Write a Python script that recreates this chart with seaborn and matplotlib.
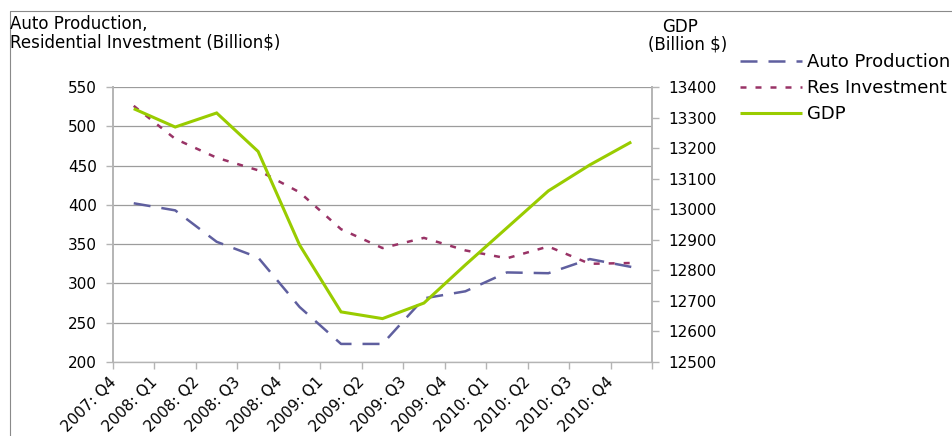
import numpy as np
import pandas as pd
import matplotlib
matplotlib.use("Agg")
import matplotlib.pyplot as plt
import matplotlib.transforms as mtransforms
from matplotlib.lines import Line2D
from matplotlib.ticker import FixedLocator, NullFormatter
import seaborn as sns

# Quarterly data
quarters = ["2007: Q4", "2008: Q1", "2008: Q2", "2008: Q3", "2008: Q4",
            "2009: Q1", "2009: Q2", "2009: Q3", "2009: Q4",
            "2010: Q1", "2010: Q2", "2010: Q3", "2010: Q4"]
auto_production = [402, 393, 353, 333, 270, 223, 223, 281, 290, 314, 313, 331, 321]
res_investment = [526, 484, 460, 444, 416, 369, 345, 358, 342, 332, 347, 325, 326]
gdp = [13329, 13269, 13315, 13189, 12883, 12664, 12642, 12693, 12818, 12939, 13060, 13145, 13220]

series_labels = ["Auto Production", "Res Investment", "GDP"]
left_ticks = [200, 250, 300, 350, 400, 450, 500, 550]
right_ticks = [12500, 12600, 12700, 12800, 12900, 13000, 13100, 13200, 13300, 13400]

AUTO_C = "#5f5f9f"
RES_C = "#993366"
GDP_C = "#99cc00"
GRID_C = "#9c9c9c"
AXIS_C = "#b4b4b4"

sns.set_theme(style="white")
plt.rcParams["font.family"] = ["DejaVu Sans"]
plt.rcParams["text.color"] = "black"
plt.rcParams["xtick.color"] = "black"
plt.rcParams["ytick.color"] = "black"

df = pd.DataFrame({
    "quarter": quarters,
    "pos": np.arange(len(quarters)),
    "auto": auto_production,
    "res": res_investment,
    "gdp": gdp,
})

W, H = 952, 436
fig = plt.figure(figsize=(W / 100, H / 100), dpi=100)
fig.patch.set_facecolor("white")
ax = fig.add_axes([113 / W, 1 - 362 / H, (652 - 113) / W, (362 - 87) / H])
ax2 = ax.twinx()

sns.lineplot(data=df, x="pos", y="auto", ax=ax, color=AUTO_C, linewidth=1.8,
             linestyle=(0, (6.8, 4.4)), label=series_labels[0], legend=False)
sns.lineplot(data=df, x="pos", y="res", ax=ax, color=RES_C, linewidth=1.8,
             linestyle=(0, (2.4, 3.6)), label=series_labels[1], legend=False)
sns.lineplot(data=df, x="pos", y="gdp", ax=ax2, color=GDP_C, linewidth=2.2,
             label=series_labels[2], legend=False)

l_auto, l_res = ax.lines[0], ax.lines[1]
l_gdp = ax2.lines[0]
l_auto.set_dashes((6.8, 4.4))
l_res.set_dashes((2.4, 3.6))
for ln in (l_auto, l_res, l_gdp):
    ln.set_solid_capstyle("butt")
    ln.set_dash_capstyle("butt")
    ln.set_solid_joinstyle("miter")

# Axes limits and ticks
ax.set_xlim(-0.5, len(quarters) - 0.5)
ax.set_ylim(left_ticks[0], left_ticks[-1])
ax2.set_ylim(right_ticks[0], right_ticks[-1])
ax.set_yticks(left_ticks)
ax2.set_yticks(right_ticks)
ax.set_xlabel("")
ax.set_ylabel("")
ax2.set_ylabel("")

ax.xaxis.set_major_locator(FixedLocator(np.arange(-0.5, len(quarters), 1.0)))
ax.xaxis.set_major_formatter(NullFormatter())
ax.set_xticks(df["pos"], labels=quarters, minor=True)

ax.tick_params(axis="x", which="major", bottom=True, length=5, width=1,
               color=AXIS_C, direction="out")
ax.tick_params(axis="x", which="minor", bottom=True, length=0, pad=0,
               labelsize=11, labelcolor="black")
ax.tick_params(axis="y", left=True, length=5, width=1, color=AXIS_C,
               direction="out", pad=6.5, labelsize=11, labelcolor="black")
ax2.tick_params(axis="y", right=True, length=5, width=1, color=AXIS_C,
                direction="out", pad=7, labelsize=11, labelcolor="black")

for lbl in ax.get_xticklabels(minor=True):
    lbl.set_rotation(45)
    lbl.set_ha("right")
    lbl.set_va("center")
    lbl.set_rotation_mode("anchor")

# Grid and spines
ax.yaxis.grid(True, color=GRID_C, linewidth=0.9)
ax.xaxis.grid(False)
ax2.grid(False)
for a in (ax, ax2):
    a.spines["top"].set_visible(False)
ax.spines["right"].set_visible(False)
ax2.spines["left"].set_visible(False)
ax2.spines["bottom"].set_visible(False)
ax.spines["left"].set_color(AXIS_C)
ax.spines["left"].set_linewidth(1.4)
ax2.spines["right"].set_color(AXIS_C)
ax2.spines["right"].set_linewidth(1.4)
ax.spines["bottom"].set_color(AXIS_C)
ax.spines["bottom"].set_linewidth(1.0)

# Axis titles
fig.text(10 / W, 1 - 29 / H, "Auto Production,", ha="left", va="baseline",
         fontsize=12, color="black")
fig.text(10 / W, 1 - 47 / H, "Residential Investment (Billion$)", ha="left",
         va="baseline", fontsize=12, color="black")
fig.text(680 / W, 1 - 32 / H, "GDP", ha="center", va="baseline", fontsize=12,
         color="black")
fig.text(688 / W, 1 - 50 / H, "(Billion $)", ha="center", va="baseline",
         fontsize=12, color="black")

# Chart border
border_c = "#8a8a8a"
fig.add_artist(Line2D([9.5 / W, 9.5 / W], [0, 1 - 11 / H], transform=fig.transFigure,
                      color=border_c, linewidth=0.8))
fig.add_artist(Line2D([9.5 / W, 1], [1 - 11 / H, 1 - 11 / H], transform=fig.transFigure,
                      color=border_c, linewidth=0.8))

# Legend
leg = fig.legend(handles=[l_auto, l_res, l_gdp], labels=series_labels, loc="upper left",
                 bbox_to_anchor=(740 / W, 1 - 53 / H), frameon=False, fontsize=13,
                 handlelength=3.45, handletextpad=0.28, labelspacing=0.45,
                 borderpad=0, borderaxespad=0)
for t in leg.get_texts():
    t.set_color("black")

fig.canvas.draw()
shift = mtransforms.ScaledTranslation(-20 / 100, -18 / 100, fig.dpi_scale_trans)
for lbl in ax.get_xticklabels(minor=True):
    lbl.set_transform(lbl.get_transform() + shift)

fig.savefig("out.png", dpi=100)
